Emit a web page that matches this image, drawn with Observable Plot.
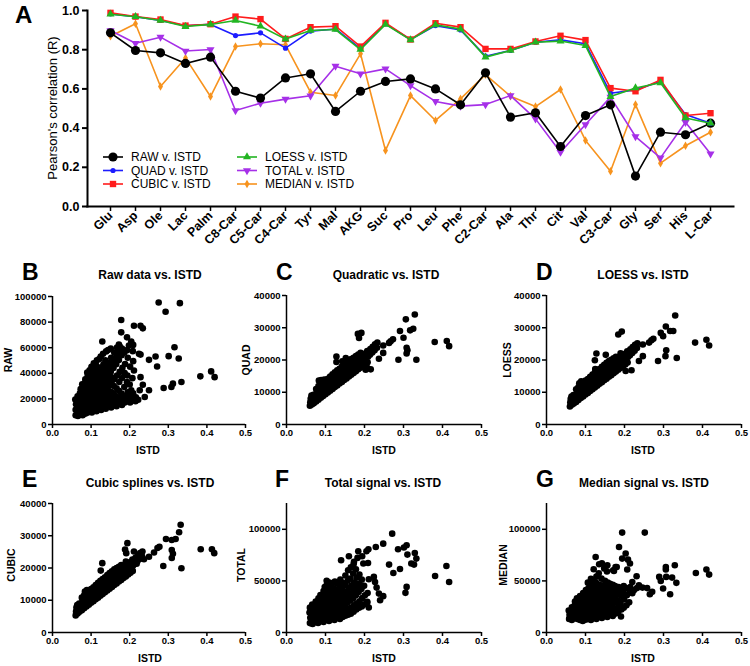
<!DOCTYPE html>
<html><head><meta charset="utf-8">
<script src="https://cdn.jsdelivr.net/npm/d3@7"></script>
<script src="https://cdn.jsdelivr.net/npm/@observablehq/plot@0.6"></script>
<style>
body{margin:0;background:#fff;}
#fig{position:relative;width:750px;height:666px;font-family:"Liberation Sans",Arial,sans-serif;overflow:hidden;}
#fig svg{position:absolute;overflow:visible;}
</style></head><body><div id="fig"></div>
<script>
// ---------- Panel A data ----------
const metabolites = ["Glu","Asp","Ole","Lac","Palm","C8-Car","C5-Car","C4-Car","Tyr","Mal","AKG","Suc","Pro","Leu","Phe","C2-Car","Ala","Thr","Cit","Val","C3-Car","Gly","Ser","His","L-Car"];
const rawR    = [0.886,0.796,0.784,0.730,0.762,0.588,0.553,0.656,0.677,0.485,0.588,0.638,0.651,0.600,0.519,0.682,0.456,0.478,0.306,0.464,0.519,0.155,0.379,0.366,0.425];
const quadR   = [0.983,0.968,0.949,0.922,0.929,0.872,0.886,0.808,0.895,0.906,0.805,0.932,0.852,0.923,0.901,0.767,0.796,0.838,0.850,0.830,0.578,0.595,0.638,0.469,0.425];
const cubicR  = [0.988,0.969,0.954,0.923,0.930,0.969,0.956,0.855,0.915,0.920,0.816,0.937,0.852,0.935,0.915,0.804,0.804,0.842,0.871,0.849,0.604,0.588,0.646,0.464,0.476];
const loessR  = [0.981,0.968,0.949,0.918,0.929,0.949,0.920,0.854,0.898,0.903,0.801,0.929,0.850,0.927,0.905,0.762,0.796,0.838,0.844,0.821,0.561,0.605,0.631,0.452,0.425];
const totalR  = [0.898,0.833,0.864,0.793,0.801,0.490,0.527,0.548,0.565,0.716,0.677,0.702,0.617,0.536,0.512,0.520,0.566,0.447,0.277,0.418,0.558,0.357,0.248,0.430,0.269];
const medianR = [0.869,0.932,0.612,0.758,0.561,0.816,0.830,0.825,0.583,0.566,0.779,0.286,0.566,0.439,0.549,0.673,0.563,0.510,0.597,0.337,0.180,0.520,0.221,0.310,0.379];
const seriesLabels = ["RAW v. ISTD","QUAD v. ISTD","CUBIC v. ISTD","LOESS v. ISTD","TOTAL v. ISTD","MEDIAN v. ISTD"];
const yTicksA = [0,0.2,0.4,0.6,0.8,1.0];

// ---------- Scatter data: [ISTD, signal in thousands] ----------
const rawVsIstd = [
 [0.060,7.2],[0.060,11.5],[0.061,15.8],[0.059,19.5],
 [0.066,6.6],[0.065,10.2],[0.067,13.9],[0.066,18.3],[0.065,22.1],
 [0.072,8.1],[0.071,12.4],[0.073,16.2],[0.072,20.4],[0.071,24.3],[0.073,27.6],
 [0.078,7.3],[0.079,11.2],[0.077,15.1],[0.078,19.2],[0.079,23.5],[0.078,27.1],[0.077,31.4],
 [0.084,8.4],[0.085,12.1],[0.083,16.3],[0.084,20.2],[0.085,24.4],[0.084,28.3],[0.083,32.2],[0.085,35.4],
 [0.090,9.1],[0.091,13.2],[0.089,17.4],[0.090,21.1],[0.091,25.3],[0.090,29.4],[0.089,33.1],[0.091,37.2],[0.090,40.5],
 [0.096,10.2],[0.097,14.1],[0.095,18.3],[0.096,22.4],[0.097,26.1],[0.096,30.2],[0.095,34.4],[0.097,38.1],[0.096,42.3],
 [0.102,9.4],[0.103,13.3],[0.101,17.2],[0.102,21.4],[0.103,25.2],[0.102,29.1],[0.101,33.3],[0.103,37.4],[0.102,41.2],[0.101,45.1],
 [0.108,11.1],[0.109,15.2],[0.107,19.4],[0.108,23.1],[0.109,27.3],[0.108,31.2],[0.107,35.1],[0.109,39.3],[0.108,43.2],[0.107,47.8],
 [0.114,10.3],[0.115,14.4],[0.113,18.1],[0.114,22.2],[0.115,26.4],[0.114,30.1],[0.113,34.2],[0.115,38.4],[0.114,42.1],[0.113,46.2],[0.115,50.1],
 [0.120,12.2],[0.121,16.1],[0.119,20.3],[0.120,24.4],[0.121,28.2],[0.120,32.1],[0.119,36.3],[0.121,40.2],[0.120,44.4],[0.121,51.2],
 [0.126,11.3],[0.127,15.2],[0.125,19.1],[0.126,23.3],[0.127,27.4],[0.126,31.2],[0.125,35.1],[0.127,39.3],[0.126,44.2],[0.125,53.1],
 [0.132,13.1],[0.133,17.3],[0.131,21.2],[0.132,25.1],[0.133,29.3],[0.132,33.2],[0.131,37.1],[0.133,42.3],[0.132,47.1],[0.131,55.2],
 [0.138,12.4],[0.139,16.2],[0.137,20.1],[0.138,24.3],[0.139,28.2],[0.138,32.4],[0.137,36.1],[0.139,40.2],[0.138,45.3],[0.137,50.2],[0.139,57.1],
 [0.145,14.2],[0.146,18.1],[0.144,22.3],[0.145,26.2],[0.146,30.1],[0.145,34.3],[0.144,38.2],[0.146,43.1],[0.145,48.3],[0.144,58.2],
 [0.152,13.3],[0.153,17.2],[0.151,21.1],[0.152,25.3],[0.153,33.2],[0.152,37.1],[0.151,41.3],[0.153,46.2],[0.152,52.1],[0.151,59.3],
 [0.159,15.1],[0.160,19.3],[0.158,24.2],[0.159,30.1],[0.160,35.3],[0.158,44.2],[0.159,50.1],[0.160,56.2],
 [0.166,14.3],[0.167,18.2],[0.165,22.1],[0.166,28.3],[0.167,38.2],[0.165,47.1],[0.166,53.3],[0.167,60.2],
 [0.173,16.2],[0.174,20.1],[0.172,26.3],[0.173,33.2],[0.174,41.1],[0.172,50.3],[0.173,57.2],[0.174,61.1],
 [0.180,15.3],[0.181,19.2],[0.179,24.1],[0.180,36.3],[0.181,44.2],[0.179,54.1],[0.180,59.3],
 [0.187,17.1],[0.188,22.3],[0.186,29.2],[0.187,40.1],[0.188,47.3],[0.186,56.2],
 [0.194,18.3],[0.195,25.2],[0.193,33.1],[0.194,38.3],[0.195,52.2],[0.193,58.1],
 [0.201,17.2],[0.202,21.1],[0.200,31.3],[0.201,45.2],
 [0.208,19.1],[0.209,24.3],[0.207,36.2],
 [0.215,18.2],[0.216,21.3],[0.222,19.3],
 [0.275,95.3],[0.330,94.8],[0.293,88.1],[0.178,81.6],[0.228,77.2],[0.211,77.2],[0.234,75.1],[0.178,72.0],[0.193,68.1],[0.129,64.8],
 [0.204,64.8],[0.209,62.2],[0.172,62.4],[0.198,61.7],[0.316,60.4],[0.224,55.2],[0.228,54.6],[0.208,57.3],[0.250,50.5],[0.267,53.1],
 [0.301,53.4],[0.327,51.6],[0.209,49.5],[0.271,45.3],[0.211,42.2],[0.383,37.6],[0.411,41.5],[0.420,37.0],[0.228,37.0],[0.334,33.2],
 [0.312,31.9],[0.308,29.3],[0.288,28.5],[0.234,31.1],[0.204,26.7],[0.226,26.7],[0.250,26.7],[0.239,21.5],[0.215,20.2]
];
const quadVsIstd = [
 [0.060,5.8],[0.061,6.9],[0.062,8.0],[0.065,6.2],[0.066,7.4],[0.064,9.0],[0.070,6.6],[0.071,7.8],[0.069,9.2],
 [0.076,7.1],[0.075,8.3],[0.077,9.7],[0.076,11.0],[0.082,7.7],[0.081,9.0],[0.083,10.4],[0.082,11.9],[0.083,13.6],
 [0.088,8.3],[0.087,9.6],[0.089,11.0],[0.088,12.4],[0.089,13.8],[0.094,8.8],[0.093,10.2],[0.095,11.6],[0.094,13.0],[0.097,13.9],
 [0.100,9.4],[0.099,10.8],[0.101,12.2],[0.100,13.5],[0.106,9.9],[0.105,11.3],[0.107,12.8],[0.106,14.2],
 [0.112,10.5],[0.111,11.9],[0.113,13.4],[0.112,14.9],[0.118,11.0],[0.117,12.5],[0.119,14.0],[0.118,15.6],
 [0.124,11.6],[0.123,13.1],[0.125,14.6],[0.124,16.2],[0.130,12.1],[0.129,13.6],[0.131,15.2],[0.130,16.8],
 [0.136,12.7],[0.135,14.2],[0.137,15.8],[0.136,17.3],[0.142,13.2],[0.141,14.8],[0.143,16.4],[0.142,18.0],
 [0.148,13.8],[0.147,15.4],[0.149,17.0],[0.148,18.6],[0.154,14.3],[0.153,15.9],[0.155,17.6],[0.154,19.3],
 [0.160,14.9],[0.159,16.5],[0.161,18.2],[0.160,19.9],[0.166,15.4],[0.165,17.0],[0.167,18.7],[0.166,20.3],
 [0.172,16.0],[0.171,17.6],[0.173,19.2],[0.172,20.7],[0.178,16.5],[0.177,18.1],[0.179,19.8],[0.178,21.2],
 [0.184,17.1],[0.183,18.7],[0.185,20.3],[0.184,21.7],[0.190,17.6],[0.189,19.2],[0.191,20.9],[0.190,22.2],
 [0.196,18.2],[0.195,19.8],[0.197,21.5],[0.202,18.7],[0.201,20.4],[0.203,22.1],[0.208,19.3],[0.209,21.0],[0.207,22.8],
 [0.214,21.6],[0.215,23.4],[0.220,22.3],[0.221,24.1],[0.226,23.0],[0.227,24.9],[0.232,23.8],[0.233,25.4],
 [0.329,34.1],[0.306,32.6],[0.325,29.7],[0.317,29.2],[0.291,29.0],[0.300,26.9],[0.273,26.4],[0.267,25.8],[0.263,25.3],[0.380,25.6],
 [0.411,25.9],[0.417,24.3],[0.308,23.8],[0.310,23.0],[0.308,22.0],[0.287,20.1],[0.333,20.1],[0.248,24.5],[0.248,22.2],[0.237,20.4],
 [0.183,28.1],[0.192,28.4],[0.186,26.8],[0.128,19.4],[0.128,21.1],[0.143,19.6],[0.152,20.6],[0.216,17.1],[0.203,17.0],[0.207,17.6]
];
const loessVsIstd = [
 [0.060,5.6],[0.061,6.8],[0.062,7.9],[0.065,6.1],[0.066,7.3],[0.064,8.7],[0.070,6.5],[0.071,7.7],[0.069,9.1],
 [0.076,7.0],[0.075,8.2],[0.077,9.5],[0.076,10.9],[0.082,7.6],[0.081,8.9],[0.083,10.2],[0.082,11.6],[0.084,12.8],
 [0.088,8.2],[0.087,9.5],[0.089,10.9],[0.088,12.3],[0.089,13.4],[0.094,8.7],[0.093,10.1],[0.095,11.5],[0.094,12.9],
 [0.100,9.3],[0.099,10.7],[0.101,12.1],[0.100,13.6],[0.106,9.8],[0.105,11.2],[0.107,12.7],[0.106,14.1],
 [0.112,10.4],[0.111,11.8],[0.113,13.3],[0.112,14.8],[0.118,10.9],[0.117,12.4],[0.119,13.9],[0.118,15.5],
 [0.124,11.5],[0.123,13.0],[0.125,14.5],[0.124,16.1],[0.125,17.2],[0.130,12.0],[0.129,13.5],[0.131,15.1],[0.130,16.7],
 [0.136,12.6],[0.135,14.1],[0.137,15.7],[0.136,17.2],[0.142,13.1],[0.141,14.7],[0.143,16.3],[0.142,17.9],
 [0.148,13.7],[0.147,15.3],[0.149,16.9],[0.148,18.5],[0.154,14.2],[0.153,15.8],[0.155,17.5],[0.154,19.1],
 [0.160,14.8],[0.159,16.4],[0.161,18.1],[0.160,19.7],[0.166,15.3],[0.165,16.9],[0.167,18.6],[0.166,20.1],
 [0.172,15.9],[0.171,17.5],[0.173,19.1],[0.172,20.5],[0.178,16.4],[0.177,18.0],[0.179,19.7],[0.178,21.0],
 [0.184,17.0],[0.183,18.6],[0.185,20.2],[0.190,17.5],[0.189,19.1],[0.191,20.8],[0.190,22.1],
 [0.196,18.1],[0.195,19.7],[0.197,21.4],[0.202,18.6],[0.201,20.3],[0.203,22.0],[0.208,19.2],[0.209,20.9],[0.207,22.7],
 [0.214,21.5],[0.215,23.3],[0.220,22.2],[0.221,24.0],[0.226,22.9],[0.227,24.7],[0.232,23.7],[0.233,25.2],
 [0.330,33.8],[0.306,30.4],[0.317,29.0],[0.325,29.0],[0.293,28.4],[0.299,27.4],[0.274,26.6],[0.269,26.1],[0.263,25.4],[0.381,25.4],
 [0.410,26.3],[0.417,24.5],[0.307,23.0],[0.305,21.2],[0.286,19.7],[0.334,20.6],[0.247,24.8],[0.247,21.2],[0.237,19.7],[0.184,27.9],
 [0.193,28.8],[0.128,22.0],[0.152,21.6],[0.124,19.9],[0.203,16.6],[0.218,16.8]
];
const cubicVsIstd = [
 [0.060,5.3],[0.061,6.5],[0.062,7.7],[0.065,5.9],[0.066,7.1],[0.064,8.5],[0.070,6.4],[0.071,7.6],[0.069,9.0],
 [0.076,6.9],[0.075,8.1],[0.077,9.4],[0.076,10.8],[0.082,7.5],[0.081,8.8],[0.083,10.1],[0.082,11.5],[0.084,12.7],
 [0.088,8.1],[0.087,9.4],[0.089,10.8],[0.088,12.2],[0.089,13.2],[0.094,8.6],[0.093,10.0],[0.095,11.4],[0.094,12.8],
 [0.100,9.2],[0.099,10.6],[0.101,12.0],[0.100,13.5],[0.106,9.7],[0.105,11.1],[0.107,12.6],[0.106,14.0],
 [0.112,10.3],[0.111,11.7],[0.113,13.2],[0.112,14.7],[0.118,10.8],[0.117,12.3],[0.119,13.8],[0.118,15.4],
 [0.124,11.4],[0.123,12.9],[0.125,14.4],[0.124,16.0],[0.130,11.9],[0.129,13.4],[0.131,15.0],[0.130,16.6],
 [0.136,12.5],[0.135,14.0],[0.137,15.6],[0.136,17.1],[0.142,13.0],[0.141,14.6],[0.143,16.2],[0.142,17.8],
 [0.148,13.6],[0.147,15.2],[0.149,16.8],[0.148,18.4],[0.154,14.1],[0.153,15.7],[0.155,17.4],[0.154,19.0],
 [0.160,14.7],[0.159,16.3],[0.161,18.0],[0.160,19.6],[0.166,15.2],[0.165,16.8],[0.167,18.5],[0.166,20.0],
 [0.172,15.8],[0.171,17.4],[0.173,19.0],[0.172,20.4],[0.178,16.3],[0.177,17.9],[0.179,19.6],[0.178,20.9],
 [0.184,16.9],[0.183,18.5],[0.185,20.1],[0.190,17.4],[0.189,19.0],[0.191,20.7],[0.190,22.0],
 [0.196,18.0],[0.195,19.6],[0.197,21.3],[0.202,18.5],[0.201,20.2],[0.203,21.9],[0.208,19.1],[0.209,20.8],[0.207,22.6],
 [0.214,21.4],[0.215,23.2],[0.220,22.1],[0.221,23.9],[0.226,22.8],[0.227,24.6],[0.232,23.6],[0.233,25.1],
 [0.332,33.4],[0.328,31.1],[0.319,29.0],[0.309,28.7],[0.294,29.0],[0.277,26.6],[0.272,26.2],[0.263,24.8],[0.384,25.8],[0.413,25.8],
 [0.419,24.6],[0.309,25.6],[0.312,24.4],[0.309,23.1],[0.287,20.6],[0.334,19.9],[0.250,23.5],[0.237,22.7],[0.218,21.3],[0.194,27.7],
 [0.188,25.7],[0.191,24.6],[0.129,21.5],[0.125,19.2],[0.211,25.1]
];
const totalVsIstd = [
 [0.060,9.1],[0.061,14.2],[0.059,19.3],[0.060,24.1],
 [0.067,8.2],[0.066,12.1],[0.068,17.3],[0.067,22.2],[0.066,27.1],
 [0.074,10.3],[0.075,15.1],[0.073,20.2],[0.074,25.3],[0.075,30.1],
 [0.081,9.2],[0.080,13.3],[0.082,18.1],[0.081,23.2],[0.080,28.3],[0.082,33.1],
 [0.088,11.1],[0.089,16.2],[0.087,21.3],[0.088,26.1],[0.089,31.2],[0.087,36.3],[0.098,44.1],
 [0.095,10.2],[0.096,14.3],[0.094,19.1],[0.095,24.2],[0.096,29.3],[0.094,34.1],[0.095,40.2],
 [0.102,12.3],[0.103,17.1],[0.101,22.2],[0.102,27.3],[0.103,32.1],[0.101,37.2],[0.102,45.3],[0.103,50.1],
 [0.109,11.2],[0.110,15.3],[0.108,20.1],[0.109,25.2],[0.110,30.3],[0.108,35.1],[0.109,41.2],[0.110,48.3],
 [0.116,13.1],[0.117,18.2],[0.115,23.3],[0.116,28.1],[0.117,33.2],[0.115,38.3],[0.116,46.1],
 [0.123,12.2],[0.124,16.3],[0.122,21.1],[0.123,26.2],[0.124,31.3],[0.122,36.1],[0.123,42.2],[0.124,49.3],
 [0.130,14.3],[0.131,19.1],[0.129,24.2],[0.130,29.3],[0.131,34.1],[0.129,40.2],[0.130,47.3],
 [0.137,13.2],[0.138,17.3],[0.136,22.1],[0.137,27.2],[0.138,32.3],[0.136,38.1],[0.137,44.2],[0.138,51.3],
 [0.144,15.1],[0.145,20.2],[0.143,25.3],[0.144,30.1],[0.145,36.2],[0.143,42.3],[0.144,48.1],
 [0.151,16.2],[0.152,21.3],[0.150,26.1],[0.151,33.2],[0.152,39.3],[0.150,46.1],[0.151,55.2],
 [0.158,17.3],[0.159,23.1],[0.157,29.2],[0.158,35.3],[0.159,43.1],[0.157,50.2],[0.158,60.3],
 [0.165,18.1],[0.166,24.2],[0.164,31.3],[0.165,38.1],[0.166,45.2],[0.164,52.3],[0.165,63.1],
 [0.172,20.2],[0.173,26.3],[0.171,33.1],[0.172,41.2],[0.173,48.3],[0.171,57.1],[0.172,66.2],
 [0.179,22.3],[0.180,28.1],[0.178,36.2],[0.179,44.3],[0.180,53.1],[0.178,61.2],
 [0.186,24.1],[0.187,30.2],[0.185,39.3],[0.186,47.1],[0.187,56.2],
 [0.193,25.2],[0.194,33.3],[0.192,42.1],[0.193,51.2],
 [0.200,27.3],[0.201,36.1],[0.199,45.2],[0.207,29.1],[0.208,38.2],
 [0.271,95.8],[0.248,86.1],[0.229,82.9],[0.205,78.7],[0.210,80.6],[0.286,80.6],[0.301,82.3],[0.308,84.5],[0.310,75.5],[0.329,77.1],
 [0.333,71.6],[0.320,66.8],[0.327,65.8],[0.263,65.8],[0.291,61.6],[0.274,57.7],[0.381,54.8],[0.410,64.5],[0.417,49.0],[0.308,44.2],
 [0.305,38.4],[0.184,78.7],[0.140,70.0],[0.160,73.9],[0.173,68.4],[0.182,72.3],[0.194,73.9],[0.197,66.8],[0.209,67.4],[0.211,51.6],
 [0.224,53.9],[0.227,49.0],[0.231,43.5],[0.237,37.7],[0.248,35.2],[0.240,31.3],[0.207,29.7],[0.211,24.2]
];
const medianVsIstd = [
 [0.058,13.2],[0.059,17.1],[0.057,21.3],
 [0.065,12.1],[0.066,16.2],[0.064,20.1],[0.065,24.3],
 [0.072,14.2],[0.073,18.1],[0.071,22.3],[0.072,26.2],[0.073,30.1],
 [0.079,13.1],[0.080,17.3],[0.078,21.2],[0.079,25.1],[0.080,29.3],[0.078,33.2],
 [0.086,12.2],[0.087,15.1],[0.085,19.3],[0.086,23.2],[0.087,27.1],[0.085,31.3],[0.086,35.2],
 [0.093,11.1],[0.094,14.3],[0.092,18.2],[0.093,22.1],[0.094,26.3],[0.092,30.2],[0.093,34.1],[0.094,38.3],
 [0.100,12.3],[0.101,16.2],[0.099,20.1],[0.100,24.3],[0.101,28.2],[0.099,32.1],[0.100,36.3],[0.101,41.2],
 [0.107,13.2],[0.108,17.1],[0.106,21.3],[0.107,25.2],[0.108,29.1],[0.106,33.3],[0.107,37.2],[0.108,43.1],[0.106,48.3],
 [0.114,12.1],[0.115,15.3],[0.113,19.2],[0.114,23.1],[0.115,27.3],[0.113,31.2],[0.114,35.1],[0.115,40.3],[0.113,46.2],[0.114,52.1],
 [0.121,14.3],[0.122,18.2],[0.120,22.1],[0.121,26.3],[0.122,30.2],[0.120,34.1],[0.121,38.3],[0.122,44.2],[0.120,50.1],[0.121,61.3],
 [0.128,13.1],[0.129,16.3],[0.127,20.2],[0.128,24.1],[0.129,28.3],[0.127,32.2],[0.128,37.1],[0.129,42.3],[0.127,48.2],[0.128,54.1],
 [0.135,15.2],[0.136,19.1],[0.134,23.3],[0.135,27.2],[0.136,31.1],[0.134,36.3],[0.135,41.2],[0.136,46.1],[0.134,57.3],[0.135,66.2],
 [0.142,14.1],[0.143,18.3],[0.141,22.2],[0.142,26.1],[0.143,30.3],[0.141,35.2],[0.142,40.1],[0.143,45.3],[0.141,52.2],[0.142,67.1],
 [0.149,16.3],[0.150,20.2],[0.148,25.1],[0.149,29.3],[0.150,34.2],[0.148,39.1],[0.149,44.3],[0.150,50.2],[0.148,62.1],
 [0.156,15.1],[0.157,19.3],[0.155,24.2],[0.156,28.1],[0.157,33.3],[0.155,38.2],[0.156,43.1],[0.157,48.3],[0.155,59.2],[0.156,65.1],
 [0.163,17.2],[0.164,22.1],[0.162,27.3],[0.163,32.2],[0.164,37.1],[0.162,42.3],[0.163,47.2],
 [0.170,16.1],[0.171,21.3],[0.169,26.2],[0.170,31.1],[0.171,36.3],[0.169,41.2],[0.170,46.1],[0.171,60.3],
 [0.177,18.3],[0.178,23.2],[0.176,29.1],[0.177,35.3],[0.178,40.2],[0.176,45.1],[0.177,63.3],
 [0.184,20.2],[0.185,25.1],[0.183,31.3],[0.184,38.2],[0.185,44.1],
 [0.191,15.5],[0.192,22.3],[0.190,28.2],[0.191,36.1],[0.192,42.3],
 [0.198,24.1],[0.199,32.3],[0.197,39.2],[0.198,45.1],[0.205,26.3],[0.206,36.2],[0.204,43.1],[0.212,29.2],[0.213,40.1],
 [0.194,96.8],[0.252,96.8],[0.186,82.9],[0.203,76.5],[0.194,71.6],[0.126,73.2],[0.209,70.6],[0.214,66.8],[0.207,61.0],[0.180,63.5],
 [0.173,59.7],[0.231,54.5],[0.220,49.0],[0.289,53.9],[0.306,63.5],[0.306,61.0],[0.329,65.2],[0.307,53.9],[0.322,53.2],[0.333,48.1],
 [0.293,50.0],[0.299,42.6],[0.317,37.1],[0.383,57.7],[0.410,61.0],[0.417,56.1],[0.271,39.4],[0.265,37.1],[0.246,43.5],[0.237,45.8],
 [0.224,41.0],[0.215,44.0],[0.232,43.0],[0.258,43.0],[0.220,38.0],[0.196,35.0]
];
const istdTicks = [0,0.1,0.2,0.3,0.4,0.5];

// ---------- rendering ----------
const FONT = '"Liberation Sans", Arial, Helvetica, sans-serif';
const fig = document.getElementById("fig");

const seriesStyle = [
  {values: medianR, idx:5, color:"#f7931e", symbol:"diamond", r:2.6, rotate:0},
  {values: totalR,  idx:4, color:"#a630e8", symbol:"triangle", r:3.0, rotate:180},
  {values: rawR,    idx:0, color:"#000000", symbol:"circle", r:4.6, rotate:0},
  {values: quadR,   idx:1, color:"#1c1cff", symbol:"circle", r:2.6, rotate:0},
  {values: cubicR,  idx:2, color:"#ff1c1c", symbol:"square", r:3.6, rotate:0},
  {values: loessR,  idx:3, color:"#22b522", symbol:"triangle", r:3.0, rotate:0}
];

const seriesMarks = seriesStyle.flatMap(s => {
  const rows = metabolites.map((m, i) => ({m, r: s.values[i]}));
  return [
    Plot.line(rows, {x:"m", y:"r", stroke:s.color, strokeWidth:1.6}),
    Plot.dot(rows, {x:"m", y:"r", symbol:s.symbol, r:s.r, fill:s.color, stroke:"none", rotate:s.rotate})
  ];
});

const A = Plot.plot({
  width:750, height:290, marginLeft:87, marginRight:17, marginTop:10, marginBottom:84,
  style:{fontFamily:FONT, fontWeight:"bold", color:"#000", background:"transparent", overflow:"visible"},
  x:{type:"point", domain:metabolites, padding:0.667},
  y:{domain:[0,1]},
  marks:[
    Plot.axisY({ticks:yTicksA, tickFormat:".1f", tickSize:5, tickPadding:3, fontSize:12.5, strokeWidth:2, label:null}),
    Plot.axisX({tickSize:5, tickPadding:2, tickRotate:-45, fontSize:12.5, strokeWidth:1.5, label:null}),
    Plot.frame({anchor:"left", strokeWidth:2}),
    Plot.frame({anchor:"bottom", strokeWidth:2}),
    ...seriesMarks
  ]
});
A.style.left = "0px"; A.style.top = "0px";
fig.appendChild(A);

function scatter(data, x0, x1, yTop, yBottom, yMax, yTicks) {
  const ml = 50, mr = 14, mt = 8, mb = 22;
  const p = Plot.plot({
    width: (x1 - x0) + ml + mr, height: (yBottom - yTop) + mt + mb,
    marginLeft: ml, marginRight: mr, marginTop: mt, marginBottom: mb,
    style:{fontFamily:FONT, fontWeight:"bold", fontSize:"9.5px", color:"#000", background:"transparent", overflow:"visible"},
    x:{domain:[0,0.5]},
    y:{domain:[0,yMax]},
    marks:[
      Plot.axisX({ticks:istdTicks, tickFormat:".1f", tickSize:4, tickPadding:1, strokeWidth:1.5, label:null}),
      Plot.axisY({ticks:yTicks, tickFormat:d => String(d * 1000), tickSize:4, tickPadding:2, strokeWidth:1.5, label:null}),
      Plot.ruleX([0], {strokeWidth:1.5}),
      Plot.ruleY([0], {strokeWidth:1.5}),
      Plot.dot(data, {x:d => d[0], y:d => d[1], r:3.3, fill:"#000", stroke:"none"})
    ]
  });
  p.style.left = (x0 - ml) + "px"; p.style.top = (yTop - mt) + "px";
  fig.appendChild(p);
}
scatter(rawVsIstd,    52, 245, 296, 424, 100, [0,20,40,60,80,100]);
scatter(quadVsIstd,  286, 481, 295, 424, 40, [0,10,20,30,40]);
scatter(loessVsIstd, 546, 741, 295, 424, 40, [0,10,20,30,40]);
scatter(cubicVsIstd,  52, 245, 503, 632, 40, [0,10,20,30,40]);
scatter(totalVsIstd, 286, 481, 503, 632, 125, [0,50,100]);
scatter(medianVsIstd,546, 741, 503, 632, 125, [0,50,100]);

// ---------- text overlay & legend ----------
const ov = d3.select(fig).append("svg").attr("width",750).attr("height",666)
  .style("left","0px").style("top","0px").style("font-family",FONT).style("pointer-events","none");

ov.append("text").attr("x",15).attr("y",23).attr("font-size",24).attr("font-weight","bold").text("A");
ov.append("text").attr("transform","translate(57,108) rotate(-90)").attr("text-anchor","middle")
  .attr("font-size",13).text("Pearson's correlation (R)");

const legendPos = [[103,157],[103,170.5],[103,184],[237,157],[237,170.5],[237,184]];
seriesStyle.forEach(s => {
  const [lx, ly] = legendPos[s.idx];
  ov.append("line").attr("x1",lx).attr("x2",lx+20).attr("y1",ly).attr("y2",ly).attr("stroke",s.color).attr("stroke-width",1.6);
  const symType = s.symbol === "circle" ? d3.symbolCircle : s.symbol === "square" ? d3.symbolSquare : s.symbol === "triangle" ? d3.symbolTriangle : d3.symbolDiamond;
  ov.append("path").attr("d", d3.symbol(symType, Math.PI * s.r * s.r)())
    .attr("transform",`translate(${lx+10},${ly}) rotate(${s.rotate})`).attr("fill",s.color);
  ov.append("text").attr("x",lx+28).attr("y",ly+4.3).attr("font-size",12).text(seriesLabels[s.idx]);
});

const panels = [
  {L:"B", lx:22,  ly:280, title:"Raw data vs. ISTD",      tx:150, ty:279, yl:"RAW",    ylx:12,  yly:360, ix:148, iy:454},
  {L:"C", lx:276, ly:280, title:"Quadratic vs. ISTD",     tx:386, ty:279, yl:"QUAD",   ylx:250, yly:360, ix:384, iy:454},
  {L:"D", lx:536, ly:280, title:"LOESS vs. ISTD",         tx:643, ty:279, yl:"LOESS",  ylx:511, yly:360, ix:643, iy:454},
  {L:"E", lx:22,  ly:487, title:"Cubic splines vs. ISTD", tx:150, ty:487, yl:"CUBIC",  ylx:15,  yly:565, ix:150, iy:662},
  {L:"F", lx:275, ly:487, title:"Total signal vs. ISTD",  tx:383, ty:487, yl:"TOTAL",  ylx:245, yly:565, ix:384, iy:662},
  {L:"G", lx:536, ly:487, title:"Median signal vs. ISTD", tx:644, ty:487, yl:"MEDIAN", ylx:507, yly:565, ix:643, iy:662}
];
panels.forEach(p => {
  ov.append("text").attr("x",p.lx).attr("y",p.ly).attr("font-size",23).attr("font-weight","bold").text(p.L);
  ov.append("text").attr("x",p.tx).attr("y",p.ty).attr("text-anchor","middle").attr("font-size",12).attr("font-weight","bold").text(p.title);
  ov.append("text").attr("transform",`translate(${p.ylx},${p.yly}) rotate(-90)`).attr("text-anchor","middle")
    .attr("font-size",10.5).attr("font-weight","bold").text(p.yl);
  ov.append("text").attr("x",p.ix).attr("y",p.iy).attr("text-anchor","middle").attr("font-size",10.5).attr("font-weight","bold").text("ISTD");
});
</script></body></html>
